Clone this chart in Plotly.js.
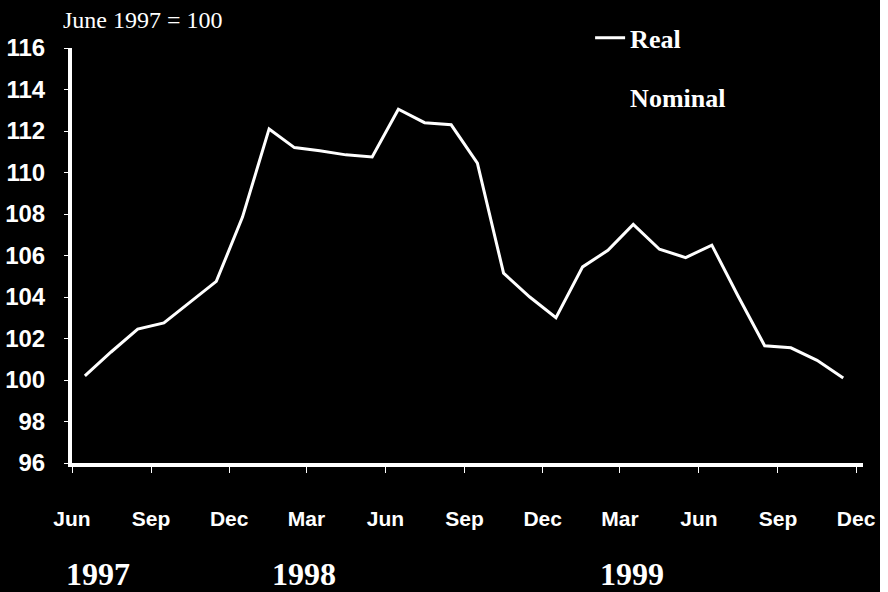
<!DOCTYPE html>
<html>
<head>
<meta charset="utf-8">
<script src="https://cdn.plot.ly/plotly-3.0.1.min.js"></script>
<style>
  html, body { margin: 0; padding: 0; background: #ffffff; }
  #chart { width: 880px; height: 592px; }
</style>
</head>
<body>
<div id="chart"></div>
<script>
// Months (monthly observations, June 1997 = 100)
var months = [
  '1997-06','1997-07','1997-08','1997-09','1997-10','1997-11','1997-12',
  '1998-01','1998-02','1998-03','1998-04','1998-05','1998-06','1998-07',
  '1998-08','1998-09','1998-10','1998-11','1998-12','1999-01','1999-02',
  '1999-03','1999-04','1999-05','1999-06','1999-07','1999-08','1999-09',
  '1999-10','1999-11'
];
var realValues = [
  100.2, 101.35, 102.45, 102.75, 103.75, 104.75, 107.85,
  112.1, 111.2, 111.05, 110.85, 110.75, 113.05, 112.4,
  112.3, 110.45, 105.15, 104.0, 103.0, 105.45, 106.25,
  107.5, 106.3, 105.9, 106.5, 104.05, 101.65, 101.55,
  100.95, 100.1
];
// The nominal series is drawn in black on black in the original and cannot be read.
var nominalMonths = [null];
var nominalValues = [null];

var tickDates = ['1997-06-01','1997-09-01','1997-12-01','1998-03-01','1998-06-01',
                 '1998-09-01','1998-12-01','1999-03-01','1999-06-01','1999-09-01','1999-12-01'];
var tickLabels = ['Jun','Sep','Dec','Mar','Jun','Sep','Dec','Mar','Jun','Sep','Dec'];
var yearLabels = ['1997','1998','1999'];
var yearPositions = ['1997-07-01','1998-02-26','1999-03-15'];
var unitNote = 'June 1997 = 100';

var traces = [
  {
    x: months, y: realValues, name: 'Real', type: 'scatter', mode: 'lines',
    xperiod: 'M1', xperiodalignment: 'middle',
    line: {color: '#ffffff', width: 3},
    legendgroup: 'a'
  },
  {
    x: nominalMonths, y: nominalValues, name: 'Nominal', type: 'scatter', mode: 'lines',
    line: {color: '#000000', width: 3},
    legendgroup: 'b'
  }
];

var annotations = yearLabels.map(function (t, i) {
  return {
    text: t, x: yearPositions[i], xref: 'x', y: -0.268, yref: 'paper',
    xanchor: 'center', yanchor: 'middle', showarrow: false,
    font: {family: 'Liberation Serif, Times New Roman, serif', size: 32, color: '#ffffff', weight: 'bold'}
  };
});
annotations.push({
  text: unitNote, x: -0.014, xref: 'paper', y: 1.068, yref: 'paper',
  xanchor: 'left', yanchor: 'middle', showarrow: false,
  font: {family: 'Liberation Serif, Times New Roman, serif', size: 24, color: '#ffffff'}
});

var layout = {
  width: 880, height: 592,
  paper_bgcolor: '#000000', plot_bgcolor: '#000000',
  margin: {l: 72, r: 17, t: 48, b: 129, autoexpand: false},
  showlegend: true,
  legend: {
    x: 0.655, y: 1.081, xanchor: 'left', yanchor: 'top',
    bgcolor: 'rgba(0,0,0,0)', traceorder: 'grouped', tracegroupgap: 22,
    font: {family: 'Liberation Serif, Times New Roman, serif', size: 26, color: '#ffffff', weight: 'bold'}
  },
  xaxis: {
    type: 'date', range: ['1997-06-01', '1999-12-09'],
    tickvals: tickDates, ticktext: tickLabels,
    showgrid: false, zeroline: false,
    showline: true, linecolor: '#ffffff', linewidth: 4,
    ticks: 'outside', ticklen: 6, tickwidth: 1, tickcolor: '#ffffff',
    ticklabelstandoff: 28,
    tickfont: {family: 'Liberation Sans, Arial, sans-serif', size: 21, color: '#ffffff', weight: 'bold'}
  },
  yaxis: {
    range: [96, 116], dtick: 2, tick0: 96,
    showgrid: false, zeroline: false,
    showline: true, linecolor: '#ffffff', linewidth: 4,
    ticks: 'outside', ticklen: 4, tickwidth: 1, tickcolor: '#ffffff',
    ticklabelstandoff: 14,
    tickfont: {family: 'Liberation Sans, Arial, sans-serif', size: 24, color: '#ffffff', weight: 'bold'}
  },
  annotations: annotations
};

Plotly.newPlot('chart', traces, layout, {displayModeBar: false, staticPlot: true});
</script>
</body>
</html>
